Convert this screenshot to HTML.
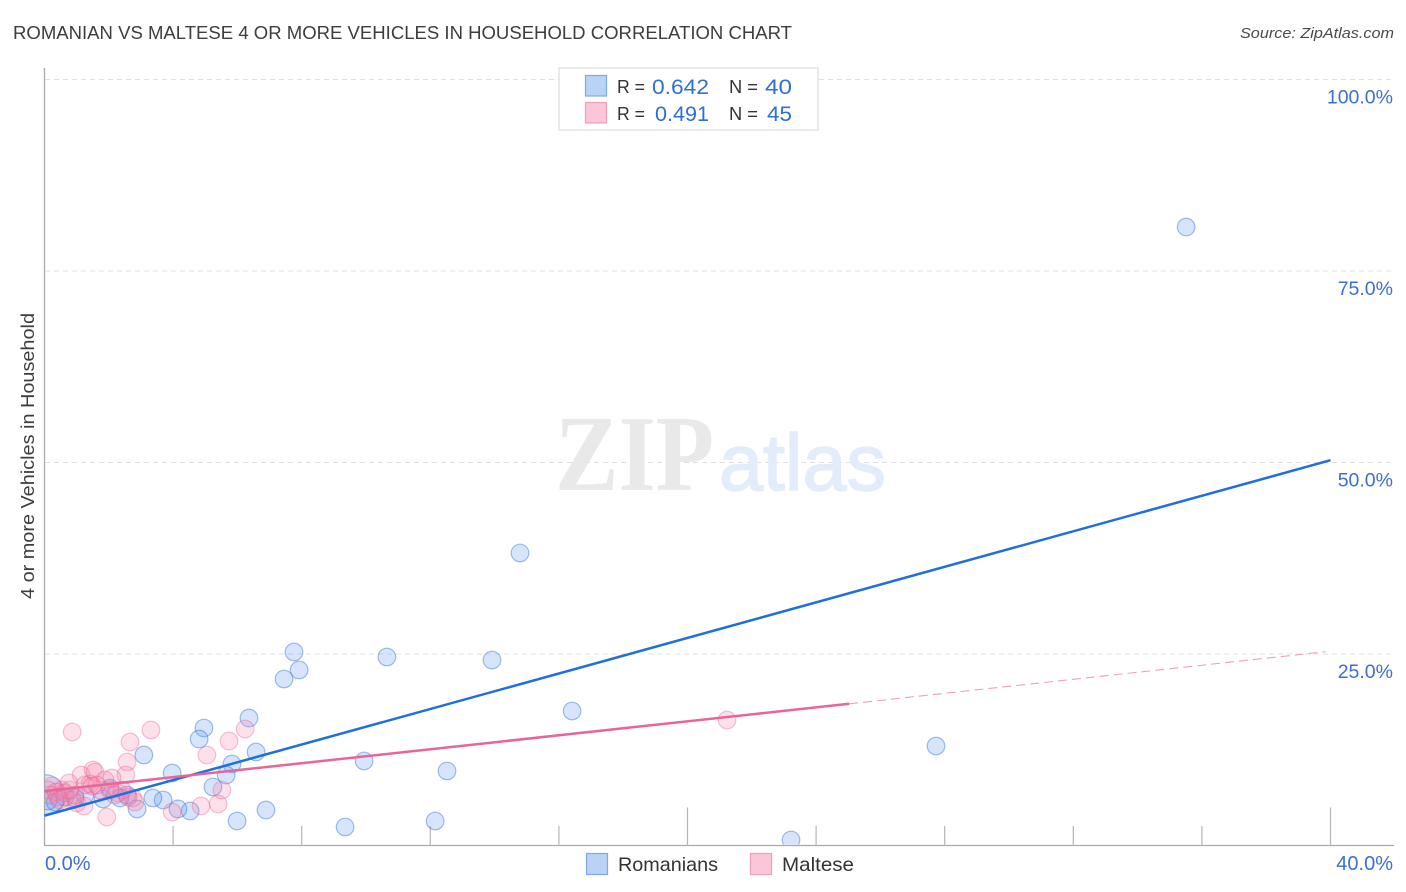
<!DOCTYPE html>
<html lang="en">
<head>
<meta charset="utf-8">
<title>Romanian vs Maltese 4 or More Vehicles in Household Correlation Chart</title>
<style>
html,body{margin:0;padding:0;background:#fff;width:1406px;height:892px;overflow:hidden}
svg{display:block}
text{font-family:"Liberation Sans",sans-serif}
</style>
</head>
<body>
<svg id="chart" xmlns="http://www.w3.org/2000/svg" width="1406" height="892" viewBox="0 0 1406 892">
  <defs>
    <clipPath id="plot-clip"><rect x="45" y="60" width="1349" height="784.5"/></clipPath>
  </defs>
  <text x="13" y="39" font-size="18" fill="#3d3d3d" textLength="779" lengthAdjust="spacingAndGlyphs">ROMANIAN VS MALTESE 4 OR MORE VEHICLES IN HOUSEHOLD CORRELATION CHART</text>
  <text x="1394" y="38" font-size="15" font-style="italic" fill="#4a4a4a" text-anchor="end" textLength="154" lengthAdjust="spacingAndGlyphs">Source: ZipAtlas.com</text>
  <g id="grid"></g>
  <g>
    <text x="555" y="490" font-size="108" font-weight="bold" fill="#e9e9e9" textLength="159" lengthAdjust="spacingAndGlyphs" style="font-family:'Liberation Serif',serif">ZIP</text>
    <text x="719" y="490" font-size="80" fill="#e3ecfa" stroke="#e3ecfa" stroke-width="1.5" textLength="167" lengthAdjust="spacingAndGlyphs">atlas</text>
  </g>
  <g id="axes">
    <line x1="44.5" y1="68" x2="44.5" y2="846" stroke="#aaa" stroke-width="1.3"/>
    <line x1="44" y1="845.5" x2="1394" y2="845.5" stroke="#aaa" stroke-width="1.3"/>
  </g>
  <g id="points" clip-path="url(#plot-clip)"></g>
  <g id="trends"></g>
  <g id="labels"></g>
  <text transform="translate(34,599) rotate(-90)" x="0" y="0" font-size="18" fill="#3d3d3d" textLength="286" lengthAdjust="spacingAndGlyphs">4 or more Vehicles in Household</text>

  <g>
    <rect x="559" y="68" width="259" height="62" fill="#fff" stroke="#ddd" stroke-width="1.2"/>
    <rect x="585.5" y="75.5" width="21" height="20.5" fill="#b9d3f6" stroke="#7fa9e6" stroke-width="1.2"/>
    <rect x="585.5" y="102.5" width="21" height="20.5" fill="#fbc6d8" stroke="#f29ebb" stroke-width="1.2"/>
    <text x="617" y="93" font-size="18" fill="#333" textLength="28" lengthAdjust="spacingAndGlyphs">R =</text>
    <text x="652" y="94" font-size="21" fill="#2f6fd6" textLength="57" lengthAdjust="spacingAndGlyphs">0.642</text>
    <text x="729" y="93" font-size="18" fill="#333" textLength="29" lengthAdjust="spacingAndGlyphs">N =</text>
    <text x="765" y="94" font-size="21" fill="#2f6fd6" textLength="27" lengthAdjust="spacingAndGlyphs">40</text>
    <text x="617" y="120" font-size="18" fill="#333" textLength="28" lengthAdjust="spacingAndGlyphs">R =</text>
    <text x="655" y="121" font-size="21" fill="#2f6fd6" textLength="54" lengthAdjust="spacingAndGlyphs">0.491</text>
    <text x="729" y="120" font-size="18" fill="#333" textLength="29" lengthAdjust="spacingAndGlyphs">N =</text>
    <text x="767" y="121" font-size="21" fill="#2f6fd6" textLength="25" lengthAdjust="spacingAndGlyphs">45</text>
  </g>

  <g>
    <rect x="586.5" y="853.5" width="21" height="21" fill="#b9d3f6" stroke="#7fa9e6" stroke-width="1.2"/>
    <text x="618" y="871" font-size="19.5" fill="#333" textLength="100" lengthAdjust="spacingAndGlyphs">Romanians</text>
    <rect x="750.5" y="853.5" width="21" height="21" fill="#fbc6d8" stroke="#f29ebb" stroke-width="1.2"/>
    <text x="782" y="871" font-size="19.5" fill="#333" textLength="72" lengthAdjust="spacingAndGlyphs">Maltese</text>
  </g>
</svg>
<script>
// ---- chart data (percent units) ----
const romaniansX = [0.02,35.51,14.79,7.76,7.92,7.45,10.65,13.92,16.41,6.36,4.96,4.81,27.73,3.09,6.58,5.83,5.65,9.94,12.52,3.97,5.24,9.35,12.15,23.22,5.99,6.89,4.53,4.15,2.88,3.69,3.37,2.57,2.35,1.82,2.04,1.26,0.64,0.95,0.33,0.11];
const romaniansY = [6.59,80.74,38.19,25.26,22.91,21.74,24.61,24.22,17.56,16.64,15.34,13.90,12.99,11.81,12.21,10.64,9.20,11.03,9.73,9.46,7.64,2.42,3.20,0.72,3.20,4.63,4.50,4.77,4.77,5.94,6.20,6.59,6.20,6.07,7.51,6.59,6.33,6.20,5.68,5.81];
const romaniansWeight = [2.3,1,1,1,1,1,1,1,1,1,1,1,1,1,1,1,1,1,1,1,1,1,1,1,1,1,1,1,1,1,1,1,1,1,1,1,1,1,1,1];
const malteseX = [0.86,3.31,2.66,2.57,2.53,6.24,5.74,5.05,5.52,5.40,4.87,3.97,1.94,21.23,1.51,1.14,2.10,1.57,1.88,2.29,2.75,2.81,1.26,1.42,1.73,1.48,0.76,0.54,0.23,0.11,0.36,0.17,0.42,0.64,0.86,1.01,1.23,0.48,0.95,0.79,2.04,2.41,2.19,2.60,1.63];
const malteseY = [14.82,15.08,13.51,10.90,9.20,15.21,13.64,11.81,7.25,5.42,5.16,4.37,3.72,16.38,9.86,9.20,8.81,9.60,8.55,6.85,6.20,5.68,7.90,8.03,7.25,7.77,8.16,7.25,7.77,7.25,6.98,6.59,6.33,6.85,5.94,5.55,5.16,5.94,6.59,7.25,7.25,7.25,6.59,6.33,7.90];
const romaniansTrendX = [0,40];
const romaniansTrendY = [3.9,50.3];
const malteseTrendX = [0,25.03];
const malteseTrendY = [7.1,18.5];
const malteseForecastX = [25.03,39.85];
const malteseForecastY = [18.5,25.3];
const yGridValues = [100,75,50,25];
const yTickLabels = ["100.0%","75.0%","50.0%","25.0%"];
const xTickValues = [4,8,12,16,20,24,28,32,36,40];
const xMajorTicks = [20,40];
const xEndValues = [0,40];
const xEndLabels = ["0.0%","40.0%"];

// ---- axis functions ----
const xScale = v => 44.5 + v * (1330.5 - 44.5) / 40;
const yScale = v => 845.5 - v * 7.66;
const NS = 'http://www.w3.org/2000/svg';
function make(tag, attrs, parent) {
  const el = document.createElementNS(NS, tag);
  for (const k in attrs) el.setAttribute(k, attrs[k]);
  parent.appendChild(el);
  return el;
}
const grid = document.getElementById('grid');
const axes = document.getElementById('axes');
const points = document.getElementById('points');
const trends = document.getElementById('trends');
const labels = document.getElementById('labels');

yGridValues.forEach((v, i) => {
  const line = make('line', {x1: 45, x2: 1394, y1: yScale(v), y2: yScale(v), stroke: '#e0e0e0', 'stroke-width': 1, 'stroke-dasharray': '5 4'}, grid);
  
  
  const t = make('text', {x: 1393, y: yScale(v) + 24, 'font-size': 19.5, fill: '#3b6fd4', 'text-anchor': 'end'}, labels);
  
  
  t.textContent = yTickLabels[i];
});

xTickValues.forEach(v => {
  const top = xMajorTicks.includes(v) ? 807.5 : 826;
  const tick = make('line', {x1: xScale(v), x2: xScale(v), y1: top, y2: 845.5, stroke: '#b5b5b5', 'stroke-width': 1.2}, axes);
  
  
});

xEndValues.forEach((v, i) => {
  const t = make('text', {x: v === 0 ? 45 : 1393, y: 870, 'font-size': 20, fill: '#3b6fd4', 'text-anchor': v === 0 ? 'start' : 'end'}, labels);
  
  
  t.textContent = xEndLabels[i];
});

romaniansX.forEach((x, i) => {
  const c = make('circle', {cx: xScale(x), cy: yScale(romaniansY[i]), r: 8.8 * romaniansWeight[i], fill: 'rgba(96,156,238,0.26)', stroke: 'rgba(48,112,214,0.45)', 'stroke-width': 1.2}, points);
  
  
});
malteseX.forEach((x, i) => {
  const c = make('circle', {cx: xScale(x), cy: yScale(malteseY[i]), r: 8.8, fill: 'rgba(246,130,170,0.25)', stroke: 'rgba(232,90,140,0.36)', 'stroke-width': 1.2}, points);
  
  
});

const forecast = make('line', {x1: xScale(malteseForecastX[0]), y1: yScale(malteseForecastY[0]), x2: xScale(malteseForecastX[1]), y2: yScale(malteseForecastY[1]), stroke: '#e8a3bd', 'stroke-width': 1.1, 'stroke-dasharray': '9 5'}, trends);


const blueTrend = make('line', {x1: xScale(romaniansTrendX[0]), y1: yScale(romaniansTrendY[0]), x2: xScale(romaniansTrendX[1]), y2: yScale(romaniansTrendY[1]), stroke: '#1f6fdc', 'stroke-width': 2.5}, trends);


const pinkTrend = make('line', {x1: xScale(malteseTrendX[0]), y1: yScale(malteseTrendY[0]), x2: xScale(malteseTrendX[1]), y2: yScale(malteseTrendY[1]), stroke: '#e8659a', 'stroke-width': 2.5}, trends);


</script>
</body>
</html>
